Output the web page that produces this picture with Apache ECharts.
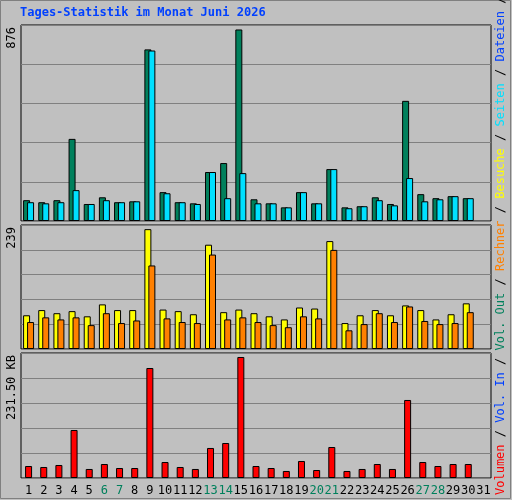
<!DOCTYPE html>
<html><head><meta charset="utf-8">
<script src="https://cdn.jsdelivr.net/npm/echarts@6/dist/echarts.min.js"></script>
<style>html,body{margin:0;padding:0;background:#c0c0c0}#c{width:512px;height:500px}</style>
</head><body><div id="c"></div>
<script>
const days = Array.from({length:31},(_,i)=>String(i+1));
const weekend = ['6','7','13','14','20','21','27','28'];
const hits  = [93,84,93,367,76,106,84,88,767,129,84,79,219,259,856,97,79,61,129,79,232,61,66,106,76,537,120,102,111,102];
const files = [84,79,84,138,76,93,84,88,762,124,84,76,219,102,214,79,79,61,129,79,232,57,66,93,70,192,88,97,111,102];
const visits= [65,75,69,73,63,86,75,75,231,76,73,67,201,71,76,69,63,57,80,78,208,50,65,75,65,84,75,57,67,88];
const hosts = [52,61,57,61,46,69,50,55,161,59,52,50,182,57,61,52,46,42,63,59,191,36,48,69,52,82,54,48,50,71];
const volume= [22.2,20.4,24.1,88.9,16.7,25.9,18.5,18.5,203.7,29.6,20.4,16.7,55.6,64.8,224.1,22.2,18.5,13,31.5,14.8,57.4,13,16.7,25.9,16.7,144.5,29.6,22.2,25.9,25.9];
const maxLabels = ['876','239','231.50 KB'];
const maxVals = [876,239,231.5];
const F = 'DejaVu Sans Mono, monospace';
const grids = [{top:25,height:196},{top:225,height:124},{top:353,height:125}].map(g=>({left:21,width:470,top:g.top,height:g.height,show:true,borderColor:'#000',borderWidth:1,backgroundColor:'#c0c0c0'}));
const xAxes = grids.map((g,i)=>({type:'category',gridIndex:i,data:days,axisLine:{show:false},axisTick:{show:false},
  axisLabel:{show:i===2,margin:7,fontFamily:F,fontSize:12,color:(v)=>weekend.includes(v)?'#00805c':'#000',interval:0}}));
const yAxes = maxVals.map((m,i)=>({type:'value',gridIndex:i,min:0,max:m,interval:m/5,axisLabel:{show:false},axisLine:{show:false},axisTick:{show:false},splitLine:{lineStyle:{color:'#808080',width:1}}}));
const bs = (name,data,color,xi,gap)=>({type:'bar',name,data,xAxisIndex:xi,yAxisIndex:xi,barWidth:7,barGap:gap,
  itemStyle:{color,borderColor:'#000',borderWidth:1},animation:false});
const ch = echarts.init(document.getElementById('c'));
ch.setOption({
  backgroundColor:'#c0c0c0',animation:false,
  grid:grids,xAxis:xAxes,yAxis:yAxes,
  series:[bs('Anfragen',hits,'#00805c',0,'-43%'),bs('Dateien',files,'#00e0ff',0,'-43%'),
          bs('Besuche',visits,'#ffff00',1,'-43%'),bs('Rechner',hosts,'#ff8000',1,'-43%'),
          bs('Volumen',volume,'#ff0000',2,'0%')],
  graphic:[
    {type:'rect',shape:{x:0.5,y:0.5,width:510,height:498},style:{fill:null,stroke:'#808080',lineWidth:1}},
    {type:'text',left:20,top:7,style:{text:'Tages-Statistik im Monat Juni 2026',fill:'#0040ff',font:'bold 12px '+F}},
    ...[25,225,353].map((y,i)=>({type:'text',x:6,y:y+2,rotation:Math.PI/2,style:{text:maxLabels[i],fill:'#000',font:'12px '+F,align:'right',verticalAlign:'top'}})),
    {type:'text',x:495,y:495,rotation:Math.PI/2,style:{text:'{r|Volumen} / {b|Vol. In} / {g|Vol. Out} / {o|Rechner} / {y|Besuche} / {c|Seiten} / {b|Dateien} / {g|Anfragen}',
      align:'left',verticalAlign:'top',font:'12px '+F,fill:'#000',
      rich:{r:{fill:'#ff0000',font:'12px '+F},b:{fill:'#0040ff',font:'12px '+F},g:{fill:'#00805c',font:'12px '+F},o:{fill:'#ff8000',font:'12px '+F},y:{fill:'#ffff00',font:'12px '+F},c:{fill:'#00e0ff',font:'12px '+F}}}}
  ]
});
</script></body></html>
